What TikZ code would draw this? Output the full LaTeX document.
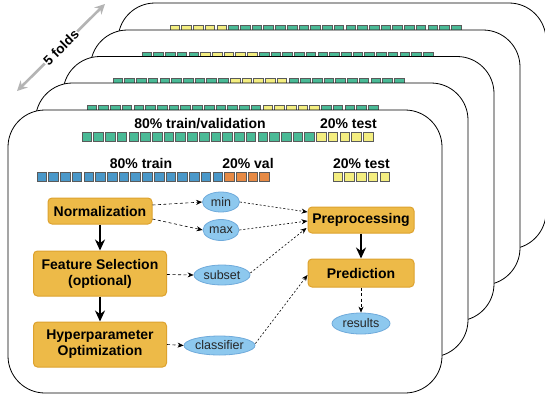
\documentclass[tikz,border=0pt]{standalone}
\usepackage{fontspec}
\setmainfont{Liberation Sans}
\usetikzlibrary{arrows.meta,shapes.geometric}
\definecolor{boxfill}{HTML}{EDBA48}
\definecolor{boxline}{HTML}{DDA22E}
\definecolor{ellfill}{HTML}{8DC8EE}
\definecolor{ellline}{HTML}{6FAADB}
\definecolor{sqG}{HTML}{4ABA96}
\definecolor{sqB}{HTML}{4A98C9}
\definecolor{sqO}{HTML}{E68A45}
\definecolor{sqY}{HTML}{F4EE80}
\definecolor{sqline}{HTML}{5A5A5A}
\definecolor{foldgray}{HTML}{B4B4B4}
\newcommand\sqrun[5]{\foreach \i in {#3,...,#4}{\draw[sqbox,fill=#5] ({#1+\i*11.72},#2) rectangle ++(9.6,9.6);}}
\newcommand\cardbox[4]{\draw[cardline] (#1,#2) rectangle (#3,#4);}
\begin{document}
\begin{tikzpicture}[x=1pt,y=-1pt,
  cardline/.style={draw=black,line width=0.8pt,fill=white,rounded corners=37pt},
  sqbox/.style={draw=sqline,line width=0.6pt},
  lbl/.style={font=\bfseries\fontsize{14}{16}\selectfont,anchor=base,inner sep=0pt},
  stepbox/.style={draw=boxline,fill=boxfill,line width=1pt,rounded corners=4pt,align=center,
    font=\bfseries\fontsize{14}{16}\selectfont,inner sep=0pt},
  ell/.style={ellipse,draw=ellline,fill=ellfill,line width=0.8pt,inner sep=0pt,
    font=\fontsize{12.5}{14}\selectfont,text=black!85},
  bigarr/.style={-{Stealth[length=11pt,width=10pt]},line width=2.6pt,black},
  dasharr/.style={-{Stealth[length=6pt,width=5pt]},line width=0.6pt,dash pattern=on 3pt off 2.5pt},
  dotarr/.style={-{Stealth[length=6pt,width=5pt]},line width=0.6pt,dash pattern=on 2pt off 2pt},
]
\useasboundingbox (0,0) rectangle (545,396);
% stacked cards, back to front
\cardbox{118}{3}{546}{249}
\sqrun{170}{25}{0}{4}{sqY}\sqrun{170}{25}{5}{24}{sqG}
\cardbox{90.5}{30}{520}{285}
\sqrun{142}{52}{0}{4}{sqG}\sqrun{142}{52}{5}{9}{sqY}\sqrun{142}{52}{10}{24}{sqG}
\cardbox{63}{56.5}{494}{321}
\sqrun{113}{78}{0}{9}{sqG}\sqrun{113}{78}{10}{14}{sqY}\sqrun{113}{78}{15}{24}{sqG}
\cardbox{35.5}{83}{468}{357}
\sqrun{87}{105}{0}{14}{sqG}\sqrun{87}{105}{15}{19}{sqY}\sqrun{87}{105}{20}{24}{sqG}
\cardbox{8}{110}{442}{393}
\sqrun{82}{132}{0}{19}{sqG}\sqrun{82}{132}{20}{24}{sqY}
\sqrun{37}{172}{0}{15}{sqB}\sqrun{37}{172}{16}{19}{sqO}
\sqrun{333}{172}{0}{4}{sqY}
% labels
\node[lbl] (tv) at (200,128) {80\% train/validation};
\node[lbl] (tt) at (348.5,128) {20\% test};
\node[lbl] (tr) at (141,168) {80\% train};
\node[lbl] (va) at (248,168) {20\% val};
\node[lbl] (te) at (361.5,168) {20\% test};
% process boxes
\node[stepbox,minimum width=104pt,minimum height=26pt] (norm) at (100,211) {Normalization};
\node[stepbox,minimum width=133pt,minimum height=45pt] (fs) at (100,273.5) {Feature Selection\\(optional)};
\node[stepbox,minimum width=133pt,minimum height=45pt] (ho) at (100,344.5) {Hyperparameter\\Optimization};
\node[stepbox,minimum width=106pt,minimum height=26pt] (prep) at (361,220) {Preprocessing};
\node[stepbox,minimum width=106pt,minimum height=28pt] (pred) at (361,273) {Prediction};
% ellipses
\node[ell,minimum width=37pt,minimum height=20pt] (min) at (221,202) {min};
\node[ell,minimum width=36pt,minimum height=21pt] (max) at (221,230) {max};
\node[ell,minimum width=56pt,minimum height=20pt] (sub) at (222,275) {subset};
\node[ell,minimum width=71pt,minimum height=19pt] (cls) at (219.5,345.5) {classifier};
\node[ell,minimum width=58pt,minimum height=21pt] (res) at (361,323.5) {results};
% connectors
\draw[bigarr] (norm) -- (fs);
\draw[bigarr] (fs) -- (ho);
\draw[bigarr] (prep) -- (pred);
\draw[dasharr] ([yshift=6pt]norm.east) -- (min.west);
\draw[dasharr] ([yshift=-8pt]norm.east) -- (max.west);
\draw[dasharr] ([yshift=-1pt]fs.east) -- (sub.west);
\draw[dasharr] (ho.east) -- (cls.west);
\draw[dotarr] (min.east) -- ([yshift=8pt]prep.west);
\draw[dotarr] (max.east) -- ([yshift=-1pt]prep.west);
\draw[dotarr] ([yshift=2pt]sub.east) -- ([xshift=-1pt,yshift=-8pt]prep.west);
\draw[dotarr] ([yshift=2pt]cls.east) -- ([yshift=-2pt]pred.west);
\draw[dasharr] (pred) -- (res);
% folds arrow
\coordinate (fa) at (17,91);
\coordinate (fb) at (105,4);
\draw[{Stealth[length=10pt,width=10pt]}-{Stealth[length=10pt,width=10pt]},line width=2.6pt,foldgray] (fa) -- (fb)
  node[midway,sloped,fill=white,inner sep=1pt,text=black,font=\bfseries\fontsize{13.5}{15}\selectfont] (fl) {5 folds};
\end{tikzpicture}
\end{document}
